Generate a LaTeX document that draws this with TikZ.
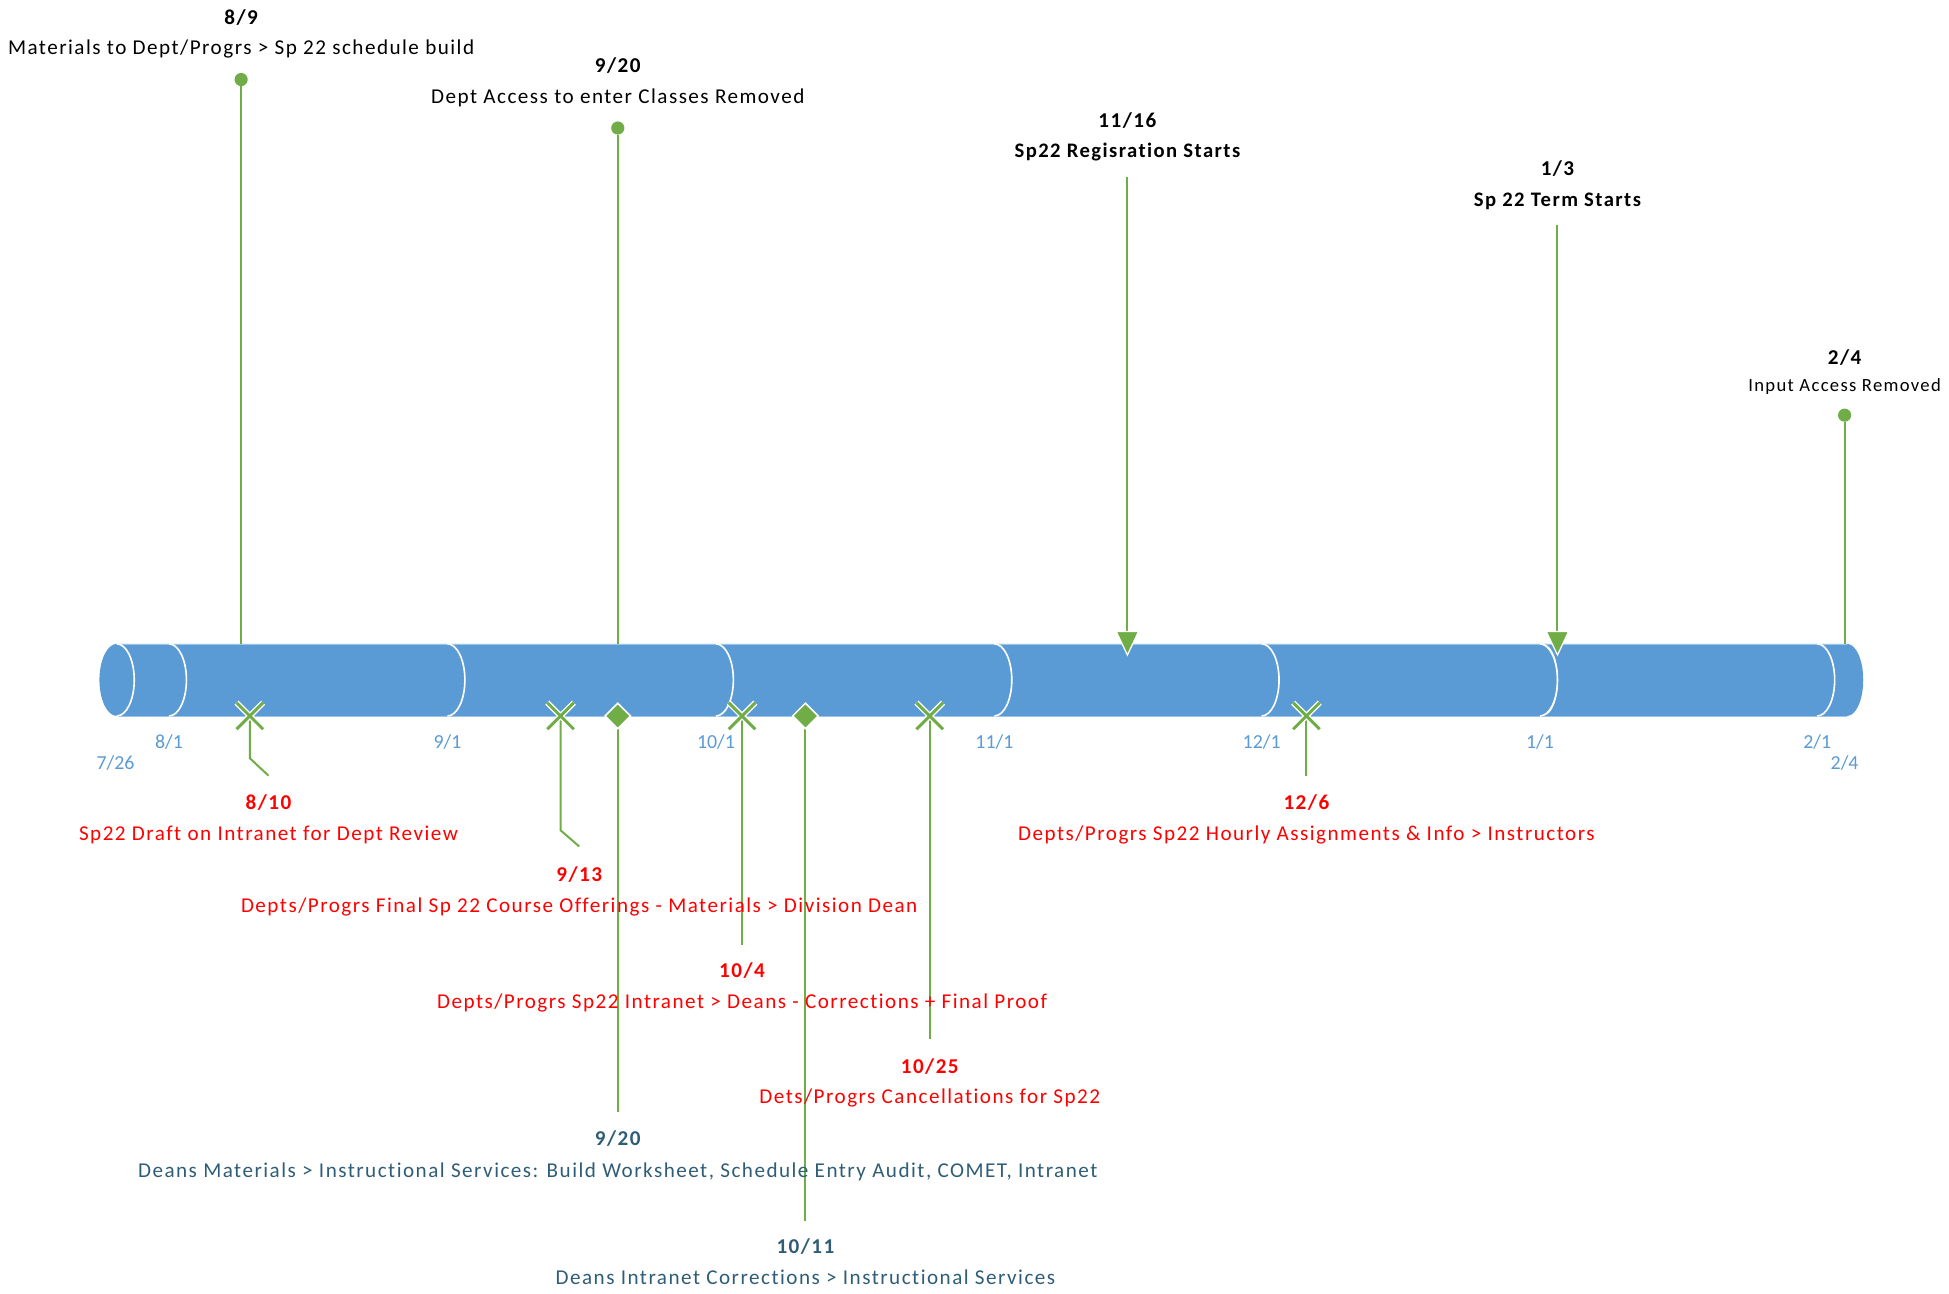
\documentclass[tikz,border=0pt]{standalone}
\usepackage{fontspec}
\setmainfont{Carlito}
\newfontfamily\evfont{Carlito}[LetterSpace=7.0,Ligatures=NoCommon]
\usetikzlibrary{shapes.misc,shapes.geometric}
\definecolor{cylblue}{HTML}{5B9BD5}
\definecolor{cyledge}{HTML}{9DC3E6}
\definecolor{vgreen}{HTML}{70AD47}
\definecolor{evred}{HTML}{FF0000}
\definecolor{evteal}{RGB}{47,93,118}
\begin{document}
\begin{tikzpicture}[x=1pt,y=-1pt,
  conn/.style={draw=vgreen, line width=1.6pt},
  datelbl/.style={font=\evfont\fontsize{17}{19}\selectfont\bfseries, anchor=base, inner sep=0pt},
  desclbl/.style={font=\evfont\fontsize{17}{19}\selectfont, anchor=base, inner sep=0pt},
  boldlbl/.style={font=\evfont\fontsize{16.6}{19}\selectfont\bfseries, anchor=base, inner sep=0pt},
  axislbl/.style={text=cylblue, font=\fontsize{16}{19}\selectfont, anchor=base, inner sep=0pt},
  seg/.style={draw=white, line width=1.3pt},
  xmk/.style={cross out, minimum size=19pt, inner sep=0pt, draw=vgreen, line width=2.4pt,
              preaction={draw=white, line width=4.6pt}},
  dmd/.style={diamond, minimum size=21pt, inner sep=0pt, fill=vgreen, draw=white, line width=1.2pt},
  dotm/.style={circle, minimum size=10.6pt, inner sep=0pt, fill=vgreen},
  tri/.style={fill=vgreen, draw=white, line width=1pt, line join=miter}
]
\useasboundingbox (0,0) rectangle (1568,1041);

% ---------- cylinder ----------
\fill[cylblue] (94,518) -- (1486,518) arc[start angle=-90,end angle=90,x radius=13,y radius=29]
  -- (94,576) arc[start angle=90,end angle=270,x radius=14,y radius=29] -- cycle;
\draw[cyledge, line width=0.6pt] (94,518) -- (1486,518);
\draw[cyledge, line width=0.6pt] (94,576) -- (1486,576);
\draw[seg] (94,518) arc[start angle=-90,end angle=90,x radius=14,y radius=29];
\foreach \bx in {136,360,576,800,1015,1239,1462}{
  \draw[seg] (\bx,518) arc[start angle=-90,end angle=90,x radius=14,y radius=29];
}
\draw[seg, line width=0.8pt] (1242,519) arc[start angle=-90,end angle=90,x radius=11,y radius=28];

% axis labels
\node[axislbl] (l726) at (93,619) {7/26};
\node[axislbl] (l81)  at (136,602) {8/1};
\node[axislbl] (l91)  at (360,602) {9/1};
\node[axislbl] (l101) at (576,602) {10/1};
\node[axislbl] (l111) at (800,602) {11/1};
\node[axislbl] (l121) at (1015,602) {12/1};
\node[axislbl] (l11)  at (1239,602) {1/1};
\node[axislbl] (l21)  at (1462,602) {2/1};
\node[axislbl] (l24)  at (1484,619) {2/4};

% ---------- top events ----------
% 8/9
\node[dotm] (adot) at (194,64) {};
\coordinate (atop) at (194,518);
\draw[conn] (adot) -- (atop);
\node[datelbl] (adate) at (194,19.5) {8/9};
\node[desclbl] (adesc) at (194,44) {Materials to Dept/Progrs > Sp 22 schedule build};
% 9/20 top
\node[dotm] (bdot) at (497,103) {};
\coordinate (btop) at (497,518);
\draw[conn] (bdot) -- (btop);
\node[datelbl] (bdate) at (497,58.5) {9/20};
\node[desclbl] (bdesc) at (497,83) {Dept Access to enter Classes Removed};
% 11/16
\coordinate (cstart) at (907,142);
\coordinate (ctip) at (907,527);
\coordinate (cbase) at (907,509);
\draw[conn] (cstart) -- (cbase);
\filldraw[tri] (ctip) -- ++(-9,-19) -- ++(18,0) -- cycle;
\node[datelbl] (cdate) at (907,102.5) {11/16};
\node[boldlbl] (cdesc) at (907,127) {Sp22 Regisration Starts};
% 1/3
\coordinate (dstart) at (1253,181);
\coordinate (dtip) at (1253,527);
\coordinate (dbase) at (1253,509);
\draw[conn] (dstart) -- (dbase);
\filldraw[tri] (dtip) -- ++(-9,-19) -- ++(18,0) -- cycle;
\node[datelbl] (ddate) at (1253,141.5) {1/3};
\node[boldlbl] (ddesc) at (1253,166) {Sp 22 Term Starts};
% 2/4
\node[dotm] (edot) at (1484,334) {};
\coordinate (etop) at (1484,518);
\draw[conn] (edot) -- (etop);
\node[datelbl] (edate) at (1484,293.5) {2/4};
\node[desclbl, font=\evfont\fontsize{15}{18}\selectfont] (edesc) at (1484,315) {Input Access Removed};

% ---------- bottom events ----------
\coordinate (fbend) at (201,610);
\coordinate (fend) at (216,624);
\coordinate (gbend) at (451,668);
\coordinate (gend) at (466,681);
\coordinate (hend) at (497,895);
\coordinate (iend) at (597,760);
\coordinate (jend) at (648,982);
\coordinate (kend) at (748,836);
\coordinate (lend) at (1051,624);
\coordinate (fpt) at (201,576);
\coordinate (gpt) at (451,576);
\coordinate (hpt) at (497,576);
\coordinate (ipt) at (597,576);
\coordinate (jpt) at (648,576);
\coordinate (kpt) at (748,576);
\coordinate (lpt) at (1051,576);
\draw[conn] (fpt) -- (fbend) -- (fend);
\draw[conn] (gpt) -- (gbend) -- (gend);
\draw[conn] (hpt) -- (hend);
\draw[conn] (ipt) -- (iend);
\draw[conn] (jpt) -- (jend);
\draw[conn] (kpt) -- (kend);
\draw[conn] (lpt) -- (lend);
% markers
\node[xmk] (fx) at (fpt) {};
\node[xmk] (gx) at (gpt) {};
\node[dmd] (hx) at (hpt) {};
\node[xmk] (ix) at (ipt) {};
\node[dmd] (jx) at (jpt) {};
\node[xmk] (kx) at (kpt) {};
\node[xmk] (lx) at (lpt) {};
% texts
\node[datelbl, text=evred] (fdate) at (216,651.5) {8/10};
\node[desclbl, text=evred] (fdesc) at (216,676) {Sp22 Draft on Intranet for Dept Review};
\node[datelbl, text=evred] (gdate) at (466,709.5) {9/13};
\node[desclbl, text=evred] (gdesc) at (466,734) {Depts/Progrs Final Sp 22 Course Offerings - Materials > Division Dean};
\node[datelbl, text=evteal] (hdate) at (497,921.5) {9/20};
\node[desclbl, text=evteal] (hdesc) at (497,947) {Deans Materials > Instructional Services: Build Worksheet, Schedule Entry Audit, COMET, Intranet};
\node[datelbl, text=evred] (idate) at (597,786.5) {10/4};
\node[desclbl, text=evred] (idesc) at (597,811) {Depts/Progrs Sp22 Intranet > Deans - Corrections + Final Proof};
\node[datelbl, text=evteal] (jdate) at (648,1008.5) {10/11};
\node[desclbl, text=evteal] (jdesc) at (648,1033) {Deans Intranet Corrections > Instructional Services};
\node[datelbl, text=evred] (kdate) at (748,863.5) {10/25};
\node[desclbl, text=evred] (kdesc) at (748,888) {Dets/Progrs Cancellations for Sp22};
\node[datelbl, text=evred] (ldate) at (1051,651.5) {12/6};
\node[desclbl, text=evred] (ldesc) at (1051,676) {Depts/Progrs Sp22 Hourly Assignments \& Info > Instructors};
\end{tikzpicture}
\end{document}
